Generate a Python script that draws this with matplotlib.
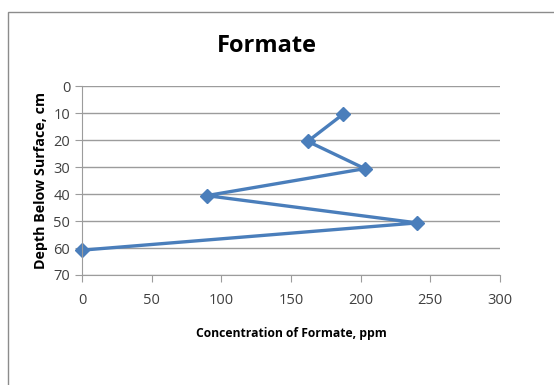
import matplotlib
matplotlib.use('Agg')
import matplotlib.pyplot as plt
from matplotlib.patches import Rectangle

conc = [187.5, 162, 203, 89.5, 240.5, 0]
depth = [10.4, 20.5, 30.6, 40.6, 50.7, 60.8]
xticks = [0, 50, 100, 150, 200, 250, 300]
yticks = [0, 10, 20, 30, 40, 50, 60, 70]

plt.rcParams['font.family'] = ['Open Sans', 'DejaVu Sans']

fig = plt.figure(figsize=(5.54, 3.85), dpi=100)
# outer chart frame
fig.patches.append(Rectangle((8 / 554, -0.1), 1.0, 1 - 12 / 385 + 0.1, transform=fig.transFigure,
                             fill=False, edgecolor='#8c8c8c', linewidth=1.0))

ax = fig.add_axes([82 / 554, 1 - 275 / 385, (500 - 82) / 554, (275 - 86) / 385])
ax.plot(conc, depth, color='#4a7ebb', linewidth=2.4, marker='D', markersize=7, clip_on=False)

ax.set_xlim(0, 300)
ax.set_ylim(70, 0)
ax.set_xticks(xticks)
ax.set_yticks(yticks)
ax.grid(axis='y', color='#9c9c9c', linewidth=1.0)
ax.set_axisbelow(True)
for s in ['top', 'right']:
    ax.spines[s].set_visible(False)
for s in ['left', 'bottom']:
    ax.spines[s].set_color('#9c9c9c')
ax.tick_params(axis='both', colors='#9c9c9c', labelcolor='#404040', labelsize=10.5, length=5)
ax.tick_params(axis='x', pad=8)

ax.set_xlabel('Concentration of Formate, ppm', fontsize=8.7, fontweight='bold', labelpad=14)
ax.set_ylabel('Depth Below Surface, cm', fontsize=10.3, fontweight='bold', labelpad=4)
fig.text(267 / 554, 1 - 46 / 385, 'Formate', fontsize=17, fontweight='bold', ha='center', va='center')

fig.savefig('out.png', dpi=100)
